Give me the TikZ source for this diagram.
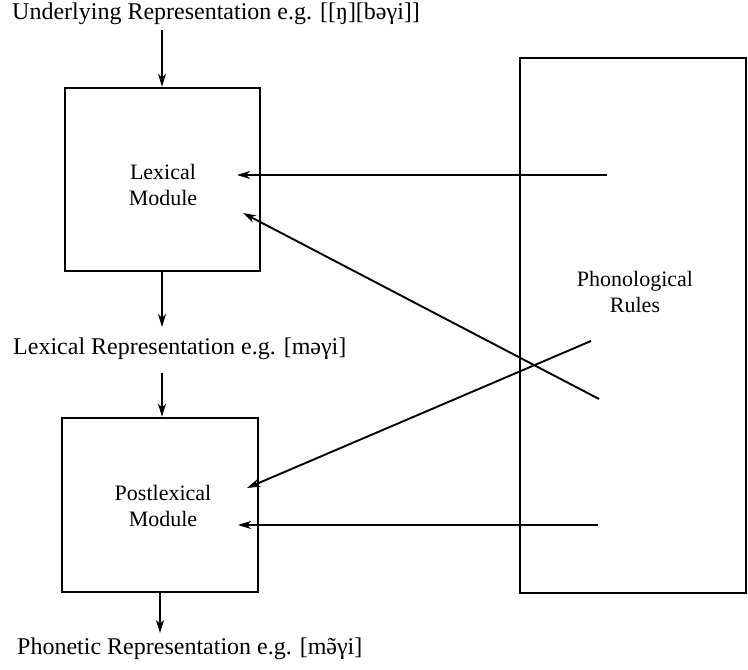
\documentclass[tikz,border=0pt]{standalone}
\usepackage{fontspec}
\setmainfont{Liberation Serif}
\usetikzlibrary{arrows.meta}
\newcommand{\schwatilde}{{\ooalign{ə\cr\hidewidth ˜\hidewidth\cr}}}
\begin{document}
\begin{tikzpicture}[x=1pt,y=1pt,
  txt/.style={font=\fontsize{24}{28}\selectfont, inner sep=0pt},
  modtxt/.style={font=\fontsize{22}{26}\selectfont, inner sep=0pt, align=center},
  modbox/.style={draw, line width=2.6pt, inner sep=0pt},
  arr/.style={line width=1.9pt, -{Stealth[length=13pt,width=8pt,inset=4pt]}}]
\useasboundingbox (0,0) rectangle (748,670);
% labels
\node[txt, anchor=base west] (under) at (12,650) {Underlying Representation e.g. [[ŋ][bəγi]]};
\node[txt, anchor=base west] (lexrep) at (13,315) {Lexical Representation e.g. [məγi]};
\node[txt, anchor=base west] (phonrep) at (17,15) {Phonetic Representation e.g. [m\schwatilde γi]};
% boxes
\node[modbox, minimum width=195pt, minimum height=183pt] (lex) at (162.5,490.5) {};
\node[modbox, minimum width=196pt, minimum height=174pt] (post) at (160,165) {};
\node[modbox, minimum width=226pt, minimum height=535pt] (phon) at (633,344.5) {};
\node[modtxt] (lextxt) at (163,485) {Lexical\\Module};
\node[modtxt] (posttxt) at (163,164) {Postlexical\\Module};
\node[modtxt] (phontxt) at (635,378) {Phonological\\Rules};
% vertical arrows
\coordinate (a1) at (162,640);
\coordinate (a2) at (162,343);
\coordinate (a3) at (162,297);
\coordinate (a4) at (160,37);
\draw[arr] (a1) -- (lex.north -| a1);
\draw[arr] (lex.south -| a2) -- (a2);
\draw[arr] (a3) -- (post.north -| a3);
\draw[arr] (post.south -| a4) -- (a4);
% rule arrows
\coordinate (r1s) at (607,495); \coordinate (r1e) at (237,495);
\coordinate (r2s) at (599,271); \coordinate (r2e) at (243,457);
\coordinate (r3s) at (591,329); \coordinate (r3e) at (247,182);
\coordinate (r4s) at (598,145); \coordinate (r4e) at (238,145);
\draw[arr] (r1s) -- (r1e);
\draw[arr] (r2s) -- (r2e);
\draw[arr] (r3s) -- (r3e);
\draw[arr] (r4s) -- (r4e);
\end{tikzpicture}
\end{document}
